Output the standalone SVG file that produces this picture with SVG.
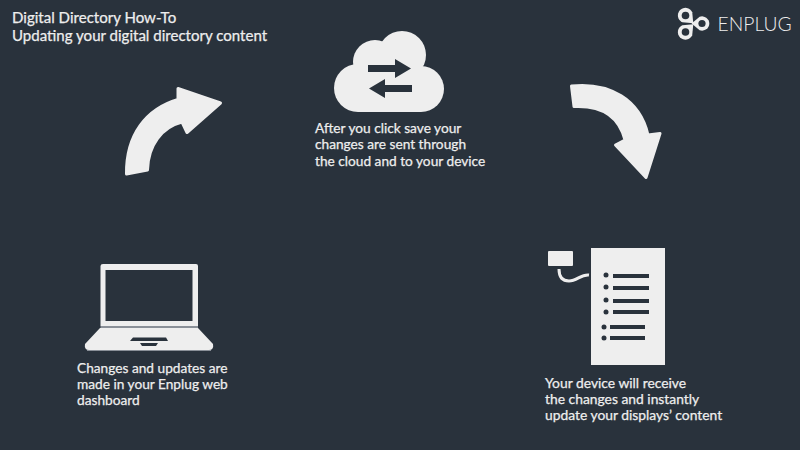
<svg xmlns="http://www.w3.org/2000/svg" width="800" height="450" viewBox="0 0 800 450">
<style>
.t{font-family:"Lato","Open Sans",sans-serif;font-size:13.7px;fill:#eeeeee;stroke:#eeeeee;stroke-width:.25}
.h{font-size:15.05px}
.w{font-size:13.85px}
.s{fill:#eeeeee}
.d{fill:#29323c}
.a{fill:#eeeeee;stroke:#eeeeee;stroke-width:3;stroke-linejoin:round}
</style>
<defs><path id="drop" d="M11 0L2.500 -7A7.500 7.500 0 1 0 2.500 7Z" fill="#eeeeee"/></defs>
<rect width="800" height="450" fill="#29323c"/>
<g id="title"><text class="t h" x="12" y="23">Digital Directory How-To</text><text class="t h" x="12" y="41">Updating your digital directory content</text></g>
<g id="logo">
<use href="#drop" transform="translate(685.500 15.500) rotate(45)"/>
<use href="#drop" transform="translate(702 23.500) rotate(180) scale(.95)"/>
<use href="#drop" transform="translate(685.500 32) rotate(-45)"/>
<circle class="d" cx="685.500" cy="15.500" r="3.800"/><circle class="d" cx="702" cy="23.500" r="3.600"/><circle class="d" cx="685.500" cy="32" r="3.800"/>
<text x="717.500" y="31" font-family="Lato,sans-serif" font-size="19.300" font-weight="300" fill="#eeeeee">ENPLUG</text>
</g>
<g id="connectors">
<path class="a" d="M126.500 174C126 135 146 109 178 99.500L178 88.500L220.500 103L187 132.500L182 122C162 127 148 145 147.500 170Z"/>
<path class="a" d="M571.500 86C610 82 640 100 648 135L660 133.500L646 177.500L615.500 145L625 140C620 120 605 105 574 106.500Z"/>
</g>
<g id="cloud">
<g class="s"><circle cx="358" cy="88" r="24"/><circle cx="375" cy="62" r="22"/><circle cx="402" cy="55" r="24"/><circle cx="421" cy="89" r="23"/><rect x="358" y="60" width="63" height="52"/></g>
<path class="d" d="M368 65H395V59L411 68.500L395 78V72H368Z"/>
<path class="d" d="M412 85H385V79L369 88.500L385 98V92H412Z"/>
<text class="t" x="315" y="133">After you click save your</text><text class="t" x="315" y="149">changes are sent through</text><text class="t" x="315" y="166">the cloud and to your device</text>
</g>
<g id="laptop">
<path class="s" d="M103 264H196Q198 264 198 266V326H100.500V266Q100.500 264 103 264Z"/>
<rect class="d" x="105.500" y="270" width="87" height="51"/>
<rect x="100.500" y="326" width="97.500" height="2" fill="#8a9098"/>
<path class="s" d="M100 328H198L213 344Q214 350 209 350H89Q84 350 85 344Z"/>
<rect x="87" y="350" width="124" height="1" fill="#8a9098"/>
<path class="d" d="M133 337.500H166L168 341H130Z"/>
<path class="d" d="M140 343H158L156 346H142Z"/>
<text class="t" x="77" y="373">Changes and updates are</text><text class="t" x="77" y="389">made in your Enplug web</text><text class="t" x="77" y="405">dashboard</text>
</g>
<g id="device">
<rect class="s" x="591" y="248" width="74" height="117"/>
<rect class="s" x="548" y="251" width="25" height="15" rx="1"/>
<path d="M559 269Q559 281 569 281C577 281 581 274 589 275" fill="none" stroke="#eeeeee" stroke-width="3"/>
<g class="d">
<circle cx="606" cy="275" r="2.500"/><rect x="613" y="274" width="36" height="4"/>
<circle cx="606" cy="287" r="2.500"/><rect x="613" y="286" width="36" height="4"/>
<circle cx="606" cy="300" r="2.500"/><rect x="613" y="299" width="36" height="4"/>
<circle cx="606" cy="312" r="2.500"/><rect x="613" y="310" width="36" height="4"/>
<circle cx="604" cy="327" r="2.500"/><rect x="610" y="325" width="35" height="4"/>
<circle cx="604" cy="338" r="2.500"/><rect x="610" y="336" width="35" height="4"/>
</g>
<text class="t w" x="545" y="388">Your device will receive</text><text class="t w" x="545" y="404">the changes and instantly</text><text class="t w" x="545" y="420">update your displays’ content</text>
</g>
</svg>
